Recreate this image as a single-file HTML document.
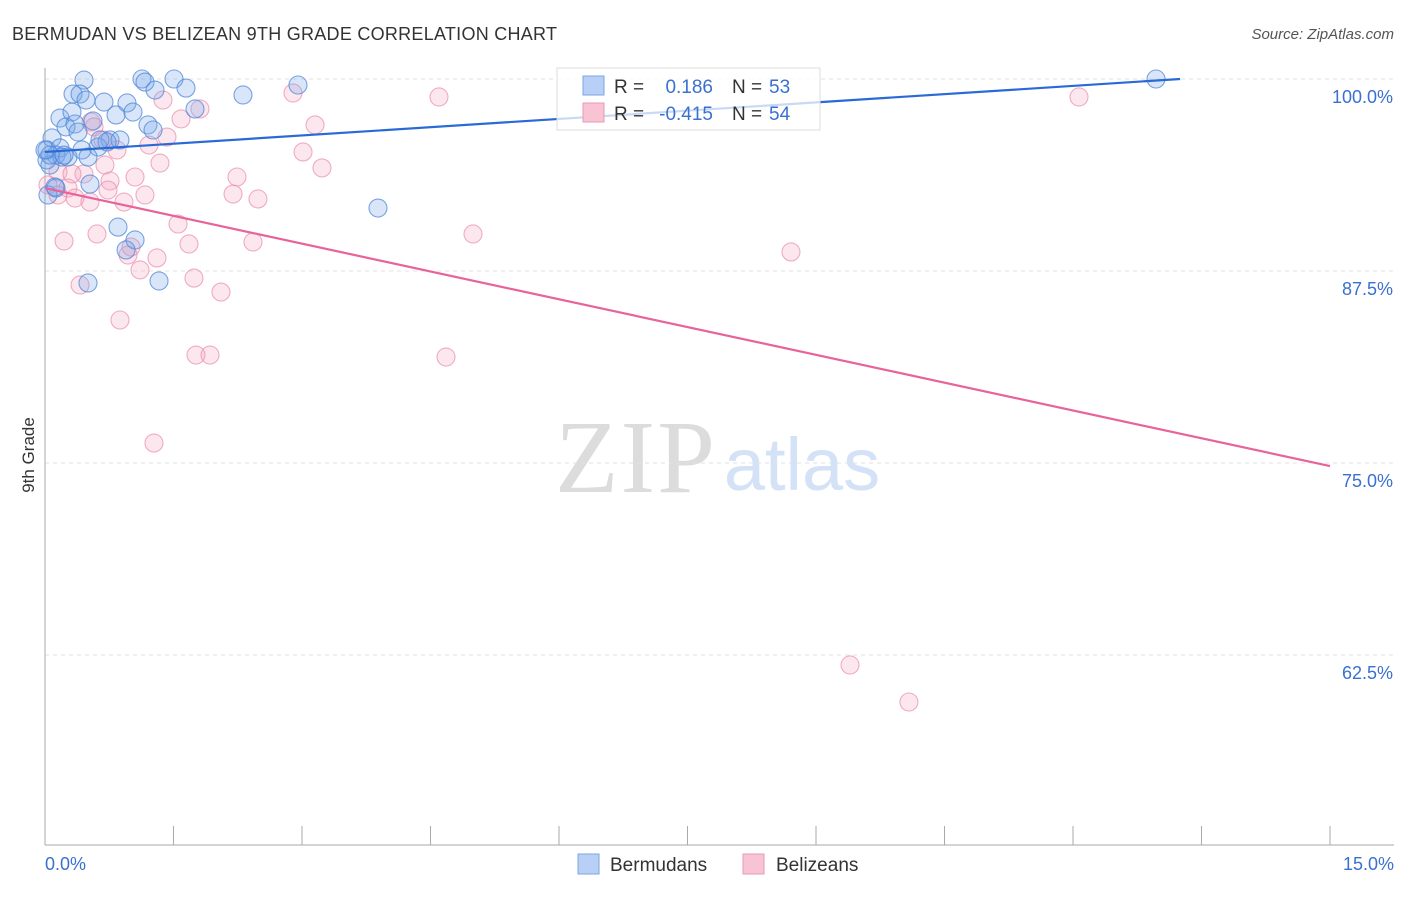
<!DOCTYPE html>
<html><head><meta charset="utf-8"><style>
body{margin:0;background:#fff;font-family:"Liberation Sans",sans-serif;}
svg text{font-family:"Liberation Sans",sans-serif;}
</style></head><body>
<svg id="chart" width="1406" height="892">
<text x="12" y="40" font-size="18" fill="#333" textLength="545">BERMUDAN VS BELIZEAN 9TH GRADE CORRELATION CHART</text>
<text x="1394" y="39" font-size="15" fill="#555" font-style="italic" text-anchor="end">Source: ZipAtlas.com</text>
<text x="34" y="455" font-size="17" fill="#333" transform="rotate(-90 34 455)" text-anchor="middle">9th Grade</text>
<g><text x="635" y="492" font-size="104" fill="#dcdcdc" text-anchor="middle" style="font-family:'Liberation Serif',serif" textLength="160">ZIP</text><text x="802" y="490" font-size="74" fill="#d3e2f6" text-anchor="middle">atlas</text></g>
<g id="grid"></g><g id="axes"></g><g id="pts"></g><g id="lines"></g>
<g>
<rect x="557" y="68" width="263" height="62" fill="rgba(255,255,255,0.75)" stroke="#ddd"/>
<rect x="583" y="76" width="21" height="19" fill="#b8d0f5" stroke="#7aa6e6"/>
<rect x="583" y="103" width="21" height="19" fill="#f8c3d3" stroke="#e99ab5"/>
<text x="614" y="93" font-size="19" fill="#333">R =</text><text x="713" y="93" font-size="19" fill="#3a70d0" text-anchor="end">0.186</text>
<text x="732" y="93" font-size="19" fill="#333">N =</text><text x="769" y="93" font-size="19" fill="#3a70d0">53</text>
<text x="614" y="120" font-size="19" fill="#333">R =</text><text x="713" y="120" font-size="19" fill="#3a70d0" text-anchor="end">-0.415</text>
<text x="732" y="120" font-size="19" fill="#333">N =</text><text x="769" y="120" font-size="19" fill="#3a70d0">54</text>
</g>
<g>
<rect x="578" y="854" width="21" height="20" fill="#b8d0f5" stroke="#7aa6e6"/><text x="610" y="871" font-size="19" fill="#333">Bermudans</text>
<rect x="743" y="854" width="21" height="20" fill="#f8c3d3" stroke="#e99ab5"/><text x="776" y="871" font-size="19" fill="#333">Belizeans</text>
</g>
</svg>
<script>
const yTicks=[100,87.5,75,62.5];
const yTickLabels=["100.0%","87.5%","75.0%","62.5%"];
const xTickCount=10;
const xLabels=["0.0%","15.0%"];
const blueX=[0.455,1.132,1.167,1.506,2.953,12.969,0.327,0.409,1.284,1.646,2.311,0.689,0.957,0.479,0.175,0.315,0.829,1.027,1.751,1.202,1.261,0.245,0.350,0.560,0.385,0.082,0.023,0.175,0.759,0.875,0.619,0.724,0.432,0.128,0.268,0.502,0.023,0.058,0.198,0.525,0.128,0.035,3.887,0.852,1.051,0.946,0.502,1.331,0.117,0.058,0.222,0.642,0];
const blueY=[99.93,100,99.80,100,99.61,100,99.02,99.02,99.28,99.41,98.96,98.50,98.44,98.63,97.46,97.85,97.66,97.85,98.05,97.01,96.68,96.88,97.07,97.27,96.55,96.16,95.38,95.51,96.03,96.03,95.57,95.90,95.38,95.05,94.92,94.92,94.73,94.40,94.92,93.16,92.90,92.45,91.60,90.36,89.52,88.87,86.72,86.85,92.97,95.05,95.05,96.03,95.38];
const redX=[2.895,4.599,12.070,1.377,1.809,1.588,3.152,0.537,0.572,1.424,1.214,0.840,3.012,0.677,3.233,1.342,0.700,0.152,0.455,0.315,2.241,1.051,0.759,0.035,0.268,0.735,0.152,1.167,2.195,2.486,0.350,0.922,0.525,1.553,4.996,0.607,0.222,2.428,1.681,1.004,0.969,1.307,1.109,8.708,1.739,0.409,2.054,0.875,1.763,1.926,4.681,1.272,9.397,10.085];
const redY=[99.09,98.83,98.83,98.63,98.05,97.40,97.01,97.20,96.88,96.22,95.70,95.38,95.25,96.03,94.21,94.53,94.40,93.95,93.82,93.82,93.62,93.62,93.36,93.10,92.90,92.77,92.45,92.45,92.51,92.19,92.25,91.99,91.99,90.56,89.91,89.91,89.45,89.39,89.26,89.06,88.54,88.35,87.57,88.74,87.04,86.59,86.13,84.31,82.03,82.03,81.90,76.30,61.85,59.44];
const blueTrendX=[0,13.25];
const blueTrendY=[95.25,100];
const redTrendX=[0,15];
const redTrendY=[92.90,74.80];

const X0=45,X1=1330,XMAX=15,Y100=79,PX_PER=192/12.5;
const sx=v=>X0+(v/XMAX)*(X1-X0);
const sy=v=>Y100+(100-v)*PX_PER;
const NS="http://www.w3.org/2000/svg";
function mk(tag,attrs,parent){const e=document.createElementNS(NS,tag);for(const k in attrs)e.setAttribute(k,attrs[k]);parent.appendChild(e);return e;}
const grid=document.getElementById('grid'),axes=document.getElementById('axes'),pts=document.getElementById('pts'),lines=document.getElementById('lines');
yTicks.forEach((t,i)=>{
  const l=mk('line',{x1:X0,x2:1394,y1:sy(t),y2:sy(t),stroke:'#e2e2e2','stroke-dasharray':'4,4'},grid);
  
  
  const tx=mk('text',{x:1393,y:sy(t)+24,'font-size':18,fill:'#3a70d0','text-anchor':'end'},grid);
  tx.textContent=yTickLabels[i];
  
  
});
const ax=mk('line',{x1:X0,x2:X0,y1:68,y2:845,stroke:'#aaa'},axes);


const bx=mk('line',{x1:X0,x2:1394,y1:845,y2:845,stroke:'#aaa'},axes);


for(let i=0;i<=xTickCount;i++){
  const x=sx(i*XMAX/xTickCount);
  const t=mk('line',{x1:x,x2:x,y1:826,y2:845,stroke:'#aaa'},axes);
  
  
}
const l0=mk('text',{x:45,y:870,'font-size':18,fill:'#3a70d0'},axes);l0.textContent=xLabels[0];


const l1=mk('text',{x:1394,y:870,'font-size':18,fill:'#3a70d0','text-anchor':'end'},axes);l1.textContent=xLabels[1];


function dots(xs,ys,fill,stroke,name){xs.forEach((v,i)=>{
  const c=mk('circle',{cx:sx(v),cy:sy(ys[i]),r:9,fill:fill,stroke:stroke,'stroke-width':1.1},pts);
  
  
});}
dots(redX,redY,'rgba(244,160,188,0.25)','rgba(234,140,172,0.7)','belizean-point');
dots(blueX,blueY,'rgba(120,165,235,0.28)','rgba(80,135,215,0.75)','bermudan-point');
const bl=mk('line',{x1:sx(blueTrendX[0]),y1:sy(blueTrendY[0]),x2:sx(blueTrendX[1]),y2:sy(blueTrendY[1]),stroke:'#2a6ad6','stroke-width':2.2},lines);


const rl=mk('line',{x1:sx(redTrendX[0]),y1:sy(redTrendY[0]),x2:sx(redTrendX[1]),y2:sy(redTrendY[1]),stroke:'#e8639a','stroke-width':2.2},lines);


</script>
</body></html>
